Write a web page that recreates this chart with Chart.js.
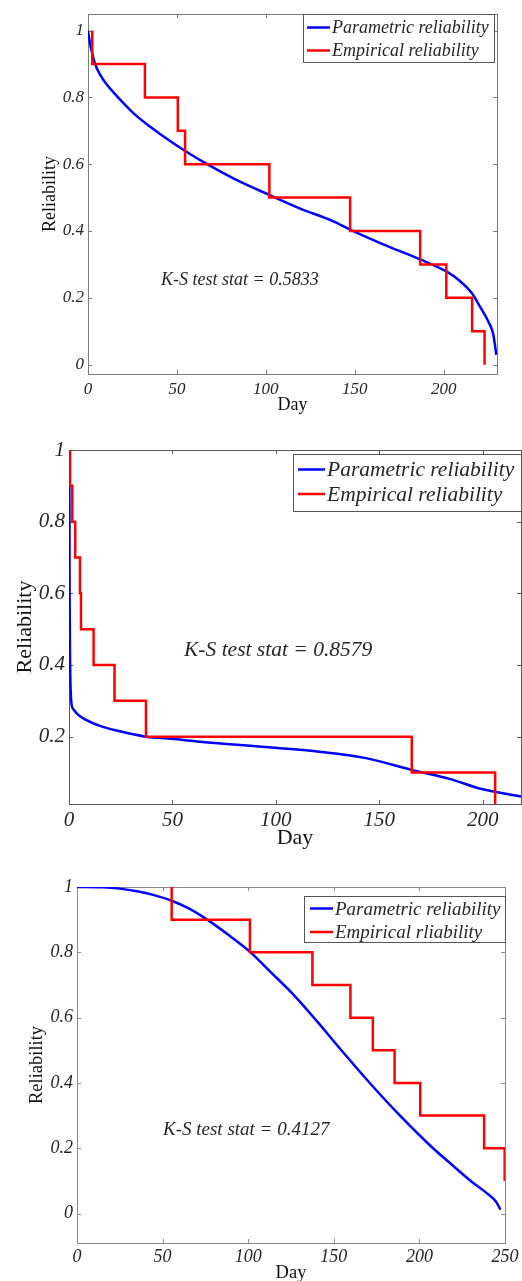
<!DOCTYPE html>
<html><head><meta charset="utf-8">
<script src="https://cdn.jsdelivr.net/npm/chart.js@4.4.1/dist/chart.umd.min.js"></script>
<style>
html,body{margin:0;padding:0;background:#fff;}
body{width:522px;height:1281px;position:relative;overflow:hidden;}
canvas{position:absolute;left:0;}
</style></head><body>
<canvas id="c1" width="522" height="420" style="top:0px;width:522px;height:420px"></canvas>
<canvas id="c2" width="522" height="440" style="top:420px;width:522px;height:440px"></canvas>
<canvas id="c3" width="522" height="440" style="top:850px;width:522px;height:440px"></canvas>
<script>
// ---------- Panel 1 data ----------
const paramDays1 = [0, 1.1, 3, 4.9, 6.8, 10, 16, 25.5, 35, 44.3, 54.2, 67, 82, 102, 119, 138, 147.4, 166, 186.8, 201.5, 209, 216, 220.6, 225.3, 227.8, 229, 229.6];
const paramRel1  = [1.0, 0.962, 0.918, 0.888, 0.868, 0.842, 0.805, 0.753, 0.712, 0.676, 0.641, 0.6, 0.557, 0.508, 0.468, 0.429, 0.404, 0.36, 0.315, 0.279, 0.251, 0.213, 0.172, 0.127, 0.093, 0.053, 0.029];
const empDays1 = [2.4, 2.4, 32, 50.5, 54.6, 102, 147.4, 186.8, 201.5, 216, 223];
const empRel1  = [1, 0.9, 0.8, 0.7, 0.6, 0.5, 0.4, 0.3, 0.2, 0.1, 0];
const xTicks1 = [0, 50, 100, 150, 200];
const yTicks1 = [0, 0.2, 0.4, 0.6, 0.8, 1];
const yTickLabels1 = ['0', '0.2', '0.4', '0.6', '0.8', '1'];
const ksText1 = 'K-S test stat = 0.5833';

// ---------- Panel 2 data ----------
const paramDays2 = [0.2, 0.3, 0.5, 0.8, 1.3, 2.3, 3.7, 6.9, 15, 23, 37.2, 49.7, 63.2, 99.4, 121, 143.6, 165.7, 183.9, 200, 218.5];
const paramRel2  = [0.9, 0.6, 0.42, 0.33, 0.288, 0.275, 0.265, 0.251, 0.23, 0.217, 0.2, 0.194, 0.186, 0.169, 0.158, 0.14, 0.107, 0.082, 0.053, 0.033];
const empDays2 = [0.5, 0.5, 1.6, 3.0, 5.3, 5.8, 11.9, 22.0, 37.2, 165.7, 206.0];
const empRel2  = [1, 0.9, 0.8, 0.7, 0.6, 0.5, 0.4, 0.3, 0.2, 0.1, 0];
const xTicks2 = [0, 50, 100, 150, 200];
const yTicks2 = [0.2, 0.4, 0.6, 0.8, 1];
const yTickLabels2 = ['0.2', '0.4', '0.6', '0.8', '1'];
const ksText2 = 'K-S test stat = 0.8579';

// ---------- Panel 3 data ----------
const paramDays3 = [0, 15, 25, 35, 45, 55.3, 65, 76, 88, 101.4, 113, 125.6, 140, 152.8, 171, 188.7, 208, 220, 230, 240, 245, 247.3];
const paramRel3  = [1, 0.999, 0.995, 0.987, 0.975, 0.958, 0.935, 0.9, 0.855, 0.8, 0.74, 0.675, 0.59, 0.51, 0.4, 0.3, 0.2, 0.145, 0.1, 0.06, 0.035, 0.012];
const empDays3 = [55.3, 55.3, 101, 137.5, 159.7, 172.8, 185.5, 200.5, 237.8, 249.8];
const empRel3  = [1, 0.9, 0.8, 0.7, 0.6, 0.5, 0.4, 0.3, 0.2, 0.1];
const xTicks3 = [0, 50, 100, 150, 200, 250];
const yTicks3 = [0, 0.2, 0.4, 0.6, 0.8, 1];
const yTickLabels3 = ['0', '0.2', '0.4', '0.6', '0.8', '1'];
const ksText3 = 'K-S test stat = 0.4127';

const seriesNames1 = ['Parametric reliability', 'Empirical reliability'];
const seriesNames2 = ['Parametric reliability', 'Empirical reliability'];
const seriesNames3 = ['Parametric reliability', 'Empirical rliability'];

const SERIF = '"Liberation Serif", "Times New Roman", serif';
const TXT = '#262626';

function pts(xs, ys){ return xs.map((x,i)=>({x:x, y:ys[i]})); }

const framePlugin = {
  id:'frame',
  beforeDatasetsDraw(chart){
    const o = chart.options.plugins.frame; const a = chart.chartArea; const ctx = chart.ctx;
    ctx.save();
    ctx.strokeStyle = o.color; ctx.lineWidth = 1;
    ctx.strokeRect(Math.round(a.left)+0.5, Math.round(a.top)+0.5, Math.round(a.right-a.left), Math.round(a.bottom-a.top));
    const tl = 4;
    ctx.beginPath();
    chart.scales.x.ticks.forEach(t=>{
      const px = Math.round(chart.scales.x.getPixelForValue(t.value))+0.5;
      ctx.moveTo(px, a.bottom); ctx.lineTo(px, a.bottom-tl);
      ctx.moveTo(px, a.top); ctx.lineTo(px, a.top+tl);
    });
    chart.scales.y.ticks.forEach(t=>{
      const py = Math.round(chart.scales.y.getPixelForValue(t.value))+0.5;
      ctx.moveTo(a.left, py); ctx.lineTo(a.left+tl, py);
      ctx.moveTo(a.right, py); ctx.lineTo(a.right-tl, py);
    });
    ctx.stroke();
    ctx.restore();
  },
  afterDraw(chart){
    const o = chart.options.plugins.frame; const ctx = chart.ctx;
    const L = o.legend;
    ctx.save();
    ctx.fillStyle = '#fff';
    ctx.fillRect(L.x0, L.y0, L.x1-L.x0, L.y1-L.y0);
    ctx.strokeStyle = '#555'; ctx.lineWidth = 1;
    ctx.strokeRect(L.x0+0.5, L.y0+0.5, L.x1-L.x0, L.y1-L.y0);
    ctx.font = 'italic ' + L.size + 'px ' + SERIF;
    ctx.textBaseline = 'middle'; ctx.textAlign = 'left';
    chart.data.datasets.forEach((ds, i)=>{
      const y = L.rows[i];
      ctx.strokeStyle = ds.borderColor; ctx.lineWidth = 2.5;
      ctx.beginPath(); ctx.moveTo(L.lx0, y); ctx.lineTo(L.lx1, y); ctx.stroke();
      ctx.fillStyle = TXT;
      ctx.fillText(ds.label, L.tx, y+1);
    });
    const K = o.ks;
    ctx.font = 'italic ' + K.size + 'px ' + SERIF;
    ctx.fillStyle = TXT;
    ctx.fillText(K.text, K.x, K.y);
    ctx.restore();
  }
};

function makeChart(cfg){
  const ctx = document.getElementById(cfg.id);
  return new Chart(ctx, {
    type:'line',
    data:{ datasets:[
      {label:cfg.names[0], data:pts(cfg.px, cfg.py), borderColor:'#0000ff', borderWidth:2.5, pointRadius:0, cubicInterpolationMode:'monotone', order:1},
      {label:cfg.names[1], data:pts(cfg.ex, cfg.ey), borderColor:'#ff0000', borderWidth:2.5, pointRadius:0, stepped:'before', order:0}
    ]},
    options:{
      responsive:false, animation:false, devicePixelRatio:1,
      layout:{padding:{top:cfg.padTop, right:cfg.padRight, left:0, bottom:0}},
      plugins:{
        legend:{display:false}, tooltip:{enabled:false},
        frame:{color:cfg.axisColor, legend:cfg.legend, ks:cfg.ks}
      },
      scales:{
        x:{type:'linear', min:cfg.xMin, max:cfg.xMax,
           afterFit:s=>{s.height = cfg.xH;},
           afterBuildTicks:s=>{s.ticks = cfg.xTicks.map(v=>({value:v}));},
           grid:{display:false, drawTicks:false}, border:{display:false},
           ticks:{padding:cfg.xPad, color:TXT, font:{family:SERIF, style:'italic', size:cfg.tickSize}, callback:v=>String(v), maxRotation:0, autoSkip:false},
           title:{display:true, text:'Day', color:'#111', font:{family:SERIF, size:cfg.titleSize, lineHeight:1}, padding:{top:0, bottom:cfg.xTitlePad}}
        },
        y:{type:'linear', min:cfg.yMin, max:cfg.yMax,
           afterFit:s=>{s.width = cfg.yW;},
           afterBuildTicks:s=>{s.ticks = cfg.yTicks.map(v=>({value:v}));},
           grid:{display:false, drawTicks:false}, border:{display:false},
           ticks:{padding:cfg.yPad, color:TXT, font:{family:SERIF, style:'italic', size:cfg.tickSize},
                  callback:(v)=>{const i = cfg.yTicks.indexOf(v); return i>=0 ? cfg.yLabels[i] : '';}, autoSkip:false},
           title:{display:true, text:'Reliability', color:'#111', font:{family:SERIF, size:cfg.titleSize, lineHeight:1}, padding:{top:cfg.yTitlePad, bottom:0}}
        }
      }
    },
    plugins:[framePlugin]
  });
}

makeChart({id:'c1', names:seriesNames1, px:paramDays1, py:paramRel1, ex:empDays1, ey:empRel1,
  xMin:0, xMax:230, yMin:-0.028, yMax:1.049, xTicks:xTicks1, yTicks:yTicks1, yLabels:yTickLabels1,
  padTop:11, padRight:25, xH:46, yW:88, xPad:5, yPad:4, tickSize:17, titleSize:18,
  xTitlePad:6, yTitlePad:41, axisColor:'#7a7a7a',
  legend:{x0:303, y0:14, x1:494, y1:62, lx0:307, lx1:330, tx:332, rows:[27.5, 50.5], size:18},
  ks:{text:ksText1, x:161, y:280, size:18}});

makeChart({id:'c2', names:seriesNames2, px:paramDays2, py:paramRel2, ex:empDays2, ey:empRel2,
  xMin:0, xMax:218.5, yMin:0.012, yMax:1, xTicks:xTicks2, yTicks:yTicks2, yLabels:yTickLabels2,
  padTop:30, padRight:1, xH:56, yW:69, xPad:4, yPad:4, tickSize:21, titleSize:22,
  xTitlePad:10.5, yTitlePad:14, axisColor:'#5a5a5a',
  legend:{x0:293, y0:34, x1:521, y1:91, lx0:298, lx1:325, tx:327, rows:[49.5, 74], size:21.5},
  ks:{text:ksText2, x:184, y:230, size:21.5}});

makeChart({id:'c3', names:seriesNames3, px:paramDays3, py:paramRel3, ex:empDays3, ey:empRel3,
  xMin:0, xMax:250, yMin:-0.09, yMax:1, xTicks:xTicks3, yTicks:yTicks3, yLabels:yTickLabels3,
  padTop:37, padRight:15, xH:47, yW:77, xPad:3.5, yPad:4, tickSize:18, titleSize:18.5,
  xTitlePad:7.5, yTitlePad:27.5, axisColor:'#8a8a8a',
  legend:{x0:304, y0:46, x1:505, y1:92, lx0:310, lx1:333, tx:335, rows:[58.5, 82], size:19},
  ks:{text:ksText3, x:163, y:280, size:19}});
</script>
</body></html>
